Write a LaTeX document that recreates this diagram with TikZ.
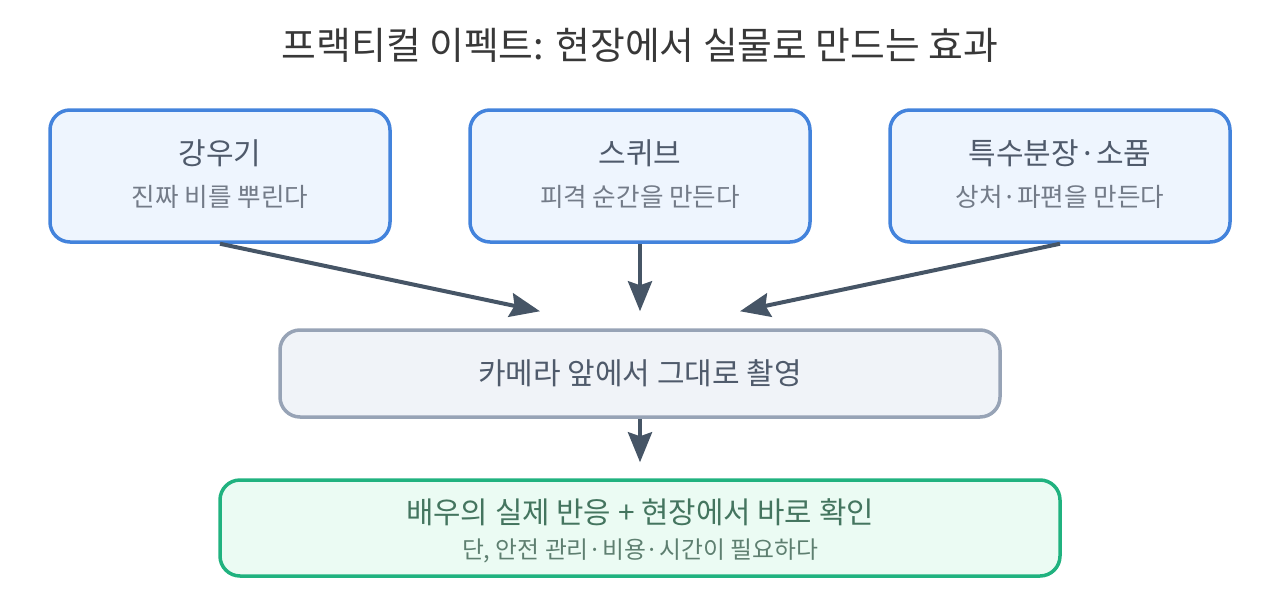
\documentclass[tikz,border=0pt]{standalone}
\usepackage{fontspec}
\setmainfont{Noto Sans CJK KR}
\usetikzlibrary{arrows.meta}
\definecolor{cardline}{HTML}{4383DC}
\definecolor{cardfill}{HTML}{EEF5FE}
\definecolor{midline}{HTML}{97A3B6}
\definecolor{midfill}{HTML}{F0F3F8}
\definecolor{okline}{HTML}{20B27F}
\definecolor{okfill}{HTML}{EBFBF3}
\definecolor{flowcol}{HTML}{465566}
\definecolor{headcol}{HTML}{4F5A6B}
\definecolor{subcol}{HTML}{737B88}
\definecolor{okhead}{HTML}{44755F}
\definecolor{oksub}{HTML}{5E7F70}
\begin{document}
\begin{tikzpicture}[x=0.5pt,y=-0.5pt,
    card/.style={draw=cardline,fill=cardfill,line width=1.75pt,rounded corners=10pt,
      minimum width=170pt,minimum height=66pt},
    shoot/.style={draw=midline,fill=midfill,line width=1.75pt,rounded corners=10pt,
      minimum width=360pt,minimum height=43.5pt},
    result/.style={draw=okline,fill=okfill,line width=1.75pt,rounded corners=10pt,
      minimum width=420pt,minimum height=48pt},
    flow/.style={draw=flowcol,line width=2pt,-{Stealth[length=15pt,width=12pt,inset=2pt]}}]
  \useasboundingbox (0,0) rectangle (1280,600);
  % 제목
  \node[text=black!78,font=\fontsize{18.9}{22}\selectfont] (title) at (640,45) {프랙티컬 이펙트: 현장에서 실물로 만드는 효과};
  % 위쪽 세 상자
  \foreach \x/\name/\head/\sub in {220/rain/강우기/진짜 비를 뿌린다,
      640/squib/스퀴브/피격 순간을 만든다,
      1060/makeup/특수분장·소품/상처·파편을 만든다} {
    \node[card] (\name) at (\x,176) {};
    \node[text=headcol,font=\fontsize{15}{17}\selectfont] (\name-h) at (\x,153) {\head};
    \node[text=subcol,font=\fontsize{12.8}{15}\selectfont] (\name-s) at (\x,197) {\sub};
  }
  % 가운데 상자
  \node[shoot,text=headcol,font=\fontsize{15}{17}\selectfont] (film) at (640,373.5) {카메라 앞에서 그대로 촬영};
  % 아래 상자
  \node[result] (gain) at (640,528) {};
  \node[text=okhead,font=\fontsize{14.9}{17}\selectfont] (gain-h) at (640,512) {배우의 실제 반응 + 현장에서 바로 확인};
  \node[text=oksub,font=\fontsize{11.9}{14}\selectfont] (gain-s) at (640,551) {단, 안전 관리·비용·시간이 필요하다};
  % 화살표
  \foreach \name/\dx in {rain/-50pt,squib/0pt,makeup/50pt}
    \draw[flow] (\name.south) -- ([xshift=\dx,yshift=8.5pt]film.north);
  \draw[flow] (film.south) -- ([yshift=8pt]gain.north);
\end{tikzpicture}
\end{document}
